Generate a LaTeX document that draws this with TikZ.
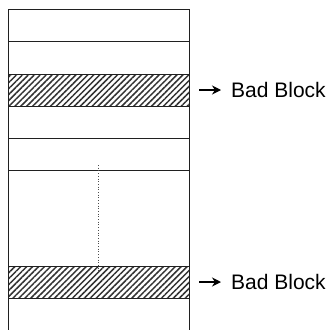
\documentclass[tikz,border=0pt]{standalone}
\usepackage{fontspec}
\setmainfont{Liberation Sans}
\usetikzlibrary{arrows.meta,positioning,patterns.meta}
\definecolor{Linea}{HTML}{202020}

\begin{document}
\begin{tikzpicture}[
  x=1pt,y=-1pt,
  every node/.style={font=\fontsize{21}{25}\selectfont},
  row/.style={draw=Linea,line width=1pt,minimum width=181pt,minimum height=32pt,
    inner sep=0pt,outer sep=0pt},
  badrow/.style={row,pattern={Lines[angle=45,distance=4.2pt,line width=1.5pt]},
    pattern color=black!80},
  flow/.style={-{Stealth[length=9pt,width=9pt]},line width=1.2pt,draw=black},
  label/.style={anchor=west,inner sep=2pt}
]
  \useasboundingbox (0,0) rectangle (331,329);

  % Bloques de memoria, de arriba abajo.
  \node[row,anchor=north west] (r1) at (8,10) {};
  \node[row,below=0pt of r1] (r2) {};
  \node[badrow,below=0pt of r2] (bad1) {};
  \node[row,below=0pt of bad1] (r4) {};
  \node[row,below=0pt of r4] (r5) {};
  \node[row,minimum height=96pt,below=0pt of r5] (gap) {};
  \node[badrow,below=0pt of gap] (bad2) {};
  \node[row,below=0pt of bad2] (r8) {};

  % Bloques omitidos.
  \coordinate (g1) at ([yshift=5pt]gap.north);
  \coordinate (g2) at ([yshift=-6pt]gap.south);
  \draw[dotted,line width=0.7pt,black!70] (g1) -- (g2);

  % Etiquetas de los bloques defectuosos.
  \node[label,right=40pt of bad1] (lbl1) {Bad Block};
  \node[label,right=40pt of bad2] (lbl2) {Bad Block};
  \coordinate (t1) at ([xshift=10pt]bad1.east);
  \coordinate (t2) at ([xshift=10pt]bad2.east);
  \draw[flow] (t1) -- ([xshift=-8pt]lbl1.west);
  \draw[flow] (t2) -- ([xshift=-8pt]lbl2.west);
\end{tikzpicture}
\end{document}
